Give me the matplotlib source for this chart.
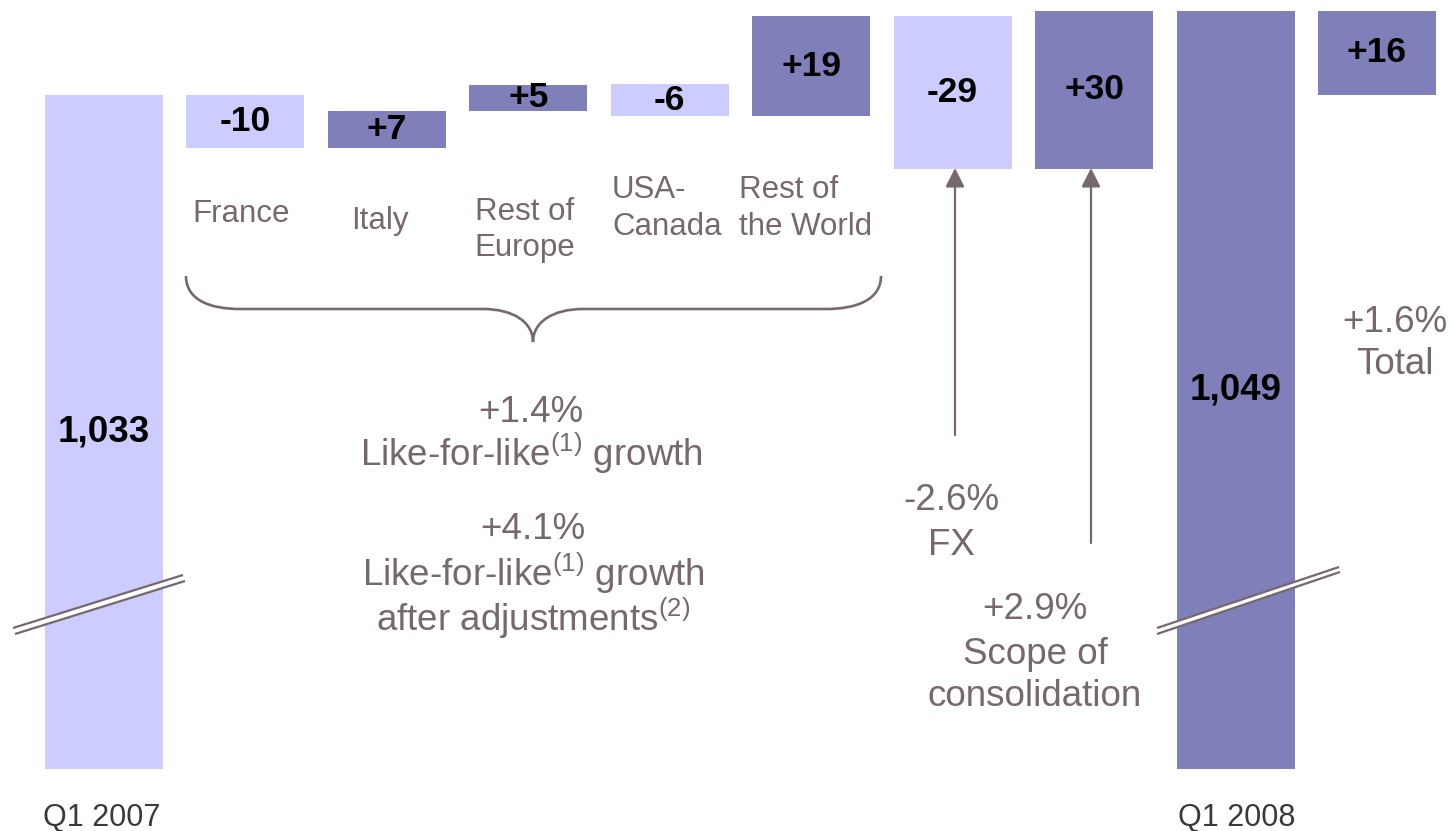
import matplotlib
matplotlib.use("Agg")
import matplotlib.pyplot as plt
from matplotlib.path import Path
from matplotlib.patches import PathPatch, Polygon

plt.rcParams['font.family'] = ['Liberation Sans', 'DejaVu Sans']
plt.rcParams['mathtext.default'] = 'regular'

# ---------------- data ----------------
start_label = "Q1 2007"
end_label = "Q1 2008"
start_value = 1033
step_names = ["France", "Italy", "Rest of\nEurope", "USA-\nCanada", "Rest of\nthe World", "FX", "Scope of\nconsolidation"]
step_values = [-10, 7, 5, -6, 19, -29, 30]
end_value = 1049
total_change = 16
pct_labels = ["+1.4%", "+4.1%", "-2.6%", "+2.9%", "+1.6%"]

# ---------------- style ----------------
W, H = 1452, 831
LIGHT = "#CCCCFF"
DARK = "#7F7FBA"
TXT = "#76686B"
QTXT = "#3A3A3A"
BASE = 904.6          # visible foot of the broken bars
PX_PER_UNIT = 5.25
BAR_W = 0.834

fig = plt.figure(figsize=(W / 100, H / 100), dpi=100)
ax = fig.add_axes([0, 0, 1, 1])
ax.set_xlim(-104 / 141.44, (W - 104) / 141.44)
ax.set_ylim(start_value - (H - 95) / PX_PER_UNIT, start_value + 95 / PX_PER_UNIT)
ax.axis("off")

# waterfall
n_steps = len(step_values)
xs_steps = list(range(1, n_steps + 1))
x_end = n_steps + 1
x_total = n_steps + 2

ax.bar(0, start_value - BASE, bottom=BASE, width=BAR_W, color=LIGHT, zorder=2)
ax.text(0, (start_value + BASE) / 2, f"{start_value:,}", ha="center", va="center",
        fontsize=26.5, fontweight="bold", color="black", zorder=5)

level = start_value
for x, v in zip(xs_steps, step_values):
    lo, hi = (level, level + v) if v >= 0 else (level + v, level)
    ax.bar(x, hi - lo, bottom=lo, width=BAR_W, color=DARK if v >= 0 else LIGHT, zorder=2)
    ax.text(x, (lo + hi) / 2, f"{v:+d}", ha="center", va="center",
            fontsize=25.5, fontweight="bold", color="black", zorder=5)
    level += v

ax.bar(x_end, end_value - BASE, bottom=BASE, width=BAR_W, color=DARK, zorder=2)
ax.text(x_end, (end_value + BASE) / 2, f"{end_value:,}", ha="center", va="center",
        fontsize=26.5, fontweight="bold", color="black", zorder=5)

ax.bar(x_total, total_change, bottom=start_value, width=BAR_W, color=DARK, zorder=2)
ax.text(x_total, start_value + total_change / 2, f"{total_change:+d}", ha="center", va="center",
        fontsize=25.5, fontweight="bold", color="black", zorder=5)

# ---------------- overlay in pixel coordinates ----------------
ov = fig.add_axes([0, 0, 1, 1], zorder=3)
ov.set_xlim(0, W)
ov.set_ylim(H, 0)
ov.axis("off")
ov.patch.set_alpha(0)


def lines(x, ys, texts, ha="center", size=26, color=TXT):
    for y, t in zip(ys, texts):
        ov.text(x, y + 0.36 * size * 1.39, t, ha=ha, va="baseline", fontsize=size, color=color)


# category labels
cat_pos = [(241, [211], "center"), (380, [218], "center"), (525, [209, 245], "center"),
           (612, [187, 224], "left"), (739, [187, 224], "left")]
for (x, ys, ha), name in zip(cat_pos, step_names[:5]):
    lines(x, ys, name.split("\n"), ha=ha, size=22.5)

lines(102, [815], [start_label], size=22, color=QTXT)
lines(1237, [815], [end_label], size=22, color=QTXT)

# brace
verts = [(186, 276), (186, 300), (210, 309), (240, 309),
         (483, 309),
         (513, 309), (533, 322), (533, 342),
         (533, 322), (553, 309), (583, 309),
         (826, 309),
         (856, 309), (881, 300), (881, 276)]
codes = [Path.MOVETO, Path.CURVE4, Path.CURVE4, Path.CURVE4,
         Path.LINETO,
         Path.CURVE4, Path.CURVE4, Path.CURVE4,
         Path.CURVE4, Path.CURVE4, Path.CURVE4,
         Path.LINETO,
         Path.CURVE4, Path.CURVE4, Path.CURVE4]
ov.add_patch(PathPatch(Path(verts, codes), facecolor="none", edgecolor=TXT, lw=1.9))

# annotation texts
sup1 = r"$^{(1)}$"
sup2 = r"$^{(2)}$"
lines(531, [409, 453], [pct_labels[0], "Like-for-like" + sup1 + " growth"], size=26.5)
lines(533, [526, 573, 618], [pct_labels[1], "Like-for-like" + sup1 + " growth",
                             "after adjustments" + sup2], size=26.5)
lines(951, [497, 542], [pct_labels[2], step_names[5]], size=26.5)
lines(1035, [606, 651, 693], [pct_labels[3]] + step_names[6].split("\n"), size=26.5)
lines(1395, [319, 361], [pct_labels[4], "Total"], size=26.5)

# arrows
for x, y0 in [(955, 435), (1091, 543)]:
    ov.annotate("", xy=(x, 168), xytext=(x, y0),
                arrowprops=dict(arrowstyle="-|>,head_length=1.15,head_width=0.58",
                                mutation_scale=10, color=TXT, lw=1.6,
                                shrinkA=0, shrinkB=0))

# axis-break marks
for (a1, b1), (a2, b2) in [(((13, 628), (183, 575)), ((15, 634), (185, 581))),
                           (((1157, 628), (1339, 567)), ((1157, 634), (1340, 572)))]:
    ov.add_patch(Polygon([a1, b1, b2, a2], closed=True, facecolor="white", edgecolor="none"))
    ov.plot([a1[0], b1[0]], [a1[1], b1[1]], color=TXT, lw=1.6, solid_capstyle="butt")
    ov.plot([a2[0], b2[0]], [a2[1], b2[1]], color=TXT, lw=1.6, solid_capstyle="butt")

fig.savefig("out.png", dpi=100, facecolor="white")
